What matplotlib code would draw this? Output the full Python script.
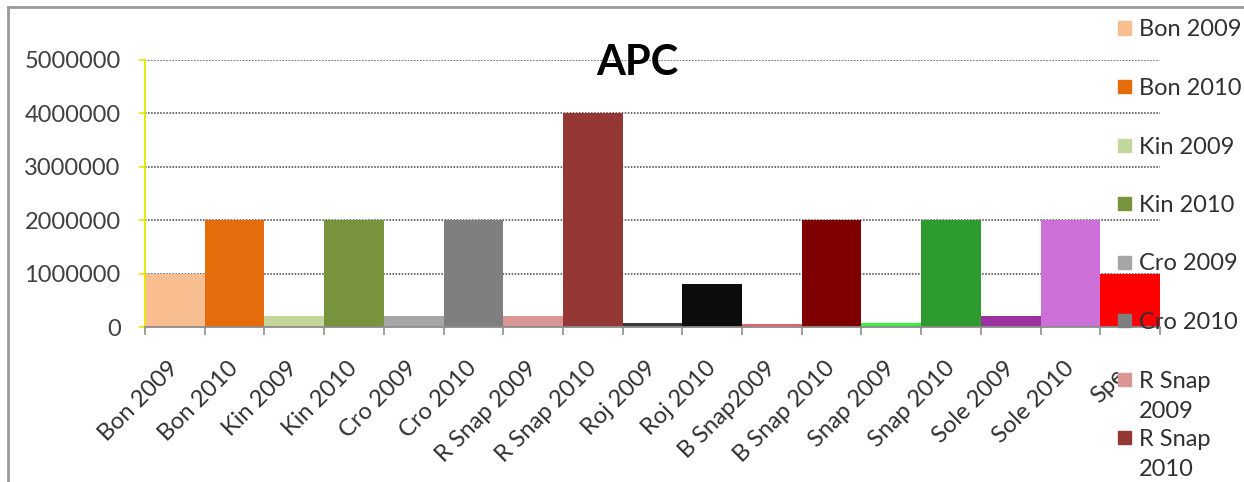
import matplotlib.pyplot as plt
from matplotlib.patches import Rectangle
from matplotlib.lines import Line2D
from matplotlib.ticker import FuncFormatter
from matplotlib.transforms import Bbox, TransformedBbox

plt.rcParams['font.family'] = ['Lato', 'DejaVu Sans']

# APC per site and year
names = ['Bon 2009', 'Bon 2010', 'Kin 2009', 'Kin 2010', 'Cro 2009', 'Cro 2010',
         'R Snap 2009', 'R Snap 2010', 'Roj 2009', 'Roj 2010', 'B Snap2009',
         'B Snap 2010', 'Snap 2009', 'Snap 2010', 'Sole 2009', 'Sole 2010', 'Spec']
apc = [1000000, 2000000, 200000, 2000000, 200000, 2000000,
       200000, 4000000, 80000, 800000, 50000,
       2000000, 80000, 2000000, 200000, 2000000, 1000000]
colors = ['#F9BE8F', '#E46C0A', '#C3D69B', '#77933C', '#A6A6A6', '#7F7F7F',
          '#D99694', '#953735', '#3A3A3A', '#0D0D0D', '#E46464',
          '#7F0000', '#3CF03C', '#2E9B2E', '#9932A0', '#CC6FD6', '#FF0000']
legend_names = ['Bon 2009', 'Bon 2010', 'Kin 2009', 'Kin 2010', 'Cro 2009',
                'Cro 2010', 'R Snap\n2009', 'R Snap\n2010']

W, H = 1244, 482
fig = plt.figure(figsize=(W / 100, H / 100), dpi=100)
ax = fig.add_axes([145 / W, 1 - 327 / H, (1160 - 145) / W, (327 - 60) / H])

x = list(range(len(names)))
ax.bar(x, apc, width=1.0, color=colors, linewidth=0)

ax.set_xlim(-0.5, len(names) - 0.5)
ax.set_ylim(0, 5000000)
ax.set_yticks([0, 1000000, 2000000, 3000000, 4000000, 5000000])
ax.yaxis.set_major_formatter(FuncFormatter(lambda v, p: '%d' % v))
ax.yaxis.grid(True, linestyle=(0, (1.0, 1.0)), color='#404040', linewidth=1.1)
ax.set_axisbelow(True)

for s in ['top', 'right']:
    ax.spines[s].set_visible(False)
ax.spines['left'].set_color('#E6E600')
ax.spines['left'].set_linewidth(1.3)
ax.spines['bottom'].set_color('#8C8C8C')
ax.spines['bottom'].set_linewidth(1.3)

ax.tick_params(axis='y', colors='#E6E600', length=4.5, width=1.2,
               labelcolor='#404040', labelsize=17, pad=13)
ax.set_xticks(x)
ax.set_xticks([i - 0.5 for i in range(len(names) + 1)], minor=True)
ax.tick_params(axis='x', which='major', length=0, pad=27)
ax.tick_params(axis='x', which='minor', length=6, width=1.2, colors='#8C8C8C')
ax.set_xticklabels(names, rotation=45, ha='right', va='center',
                   rotation_mode='anchor', fontsize=17, color='#303030')

# last label runs under the legend, cut it off there
clip = TransformedBbox(Bbox([[0, 0], [1118 / W, 1]]), fig.transFigure)
last = ax.get_xticklabels()[-1]
last.set_clip_box(clip)
last.set_clip_on(True)

fig.text(637 / W, 1 - 75 / H, 'APC', ha='center', va='baseline',
         fontsize=30, fontweight='bold', color='black')

# legend down the right edge, long names wrap onto a second line
for i, (lab, c) in enumerate(zip(legend_names, colors)):
    yc = 28 + 58.5 * i
    fig.patches.append(Rectangle((1118 / W, 1 - (yc + 6.5) / H), 13 / W, 13 / H,
                                 transform=fig.transFigure, color=c, zorder=5))
    for k, line in enumerate(lab.split('\n')):
        fig.text(1139 / W, 1 - (yc + 8.5 + 30 * k) / H, line, ha='left',
                 va='baseline', fontsize=17, color='#303030', zorder=5)

# chart frame
fig.add_artist(Line2D([8 / W, 8 / W], [0, 1 - 7 / H], transform=fig.transFigure,
                      color='#9A9A9A', linewidth=2))
fig.add_artist(Line2D([8 / W, 1], [1 - 7 / H, 1 - 7 / H], transform=fig.transFigure,
                      color='#9A9A9A', linewidth=2))

fig.savefig('out.png', dpi=100)
